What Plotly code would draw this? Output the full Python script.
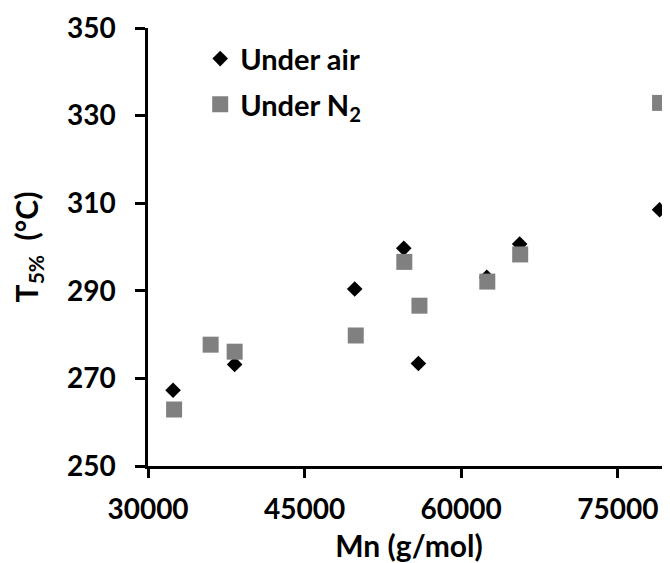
import plotly.graph_objects as go

# Data
mn_air = [32400, 38300, 49800, 54500, 55900, 62450, 65600, 79000]
t5_air = [267.3, 273.2, 290.4, 299.7, 273.4, 293.1, 300.7, 308.5]
mn_n2 = [32500, 36000, 38300, 49900, 54550, 56000, 62500, 65650, 79050]
t5_n2 = [262.9, 277.7, 276.1, 279.8, 296.6, 286.6, 292.1, 298.3, 332.9]
x_ticks = [30000, 45000, 60000, 75000]
y_ticks = [250, 270, 290, 310, 330, 350]

FONT = "Lato"
TICK = dict(family=FONT, size=28, color="black", weight="bold")
TITLE = dict(family=FONT, size=30, color="black", weight="bold")

fig = go.Figure()
fig.add_trace(go.Scatter(
    x=mn_air, y=t5_air, mode="markers", name="Under air", legendgroup="a",
    cliponaxis=False,
    marker=dict(symbol="diamond", size=12, color="black"),
))
fig.add_trace(go.Scatter(
    x=mn_n2, y=t5_n2, mode="markers", name="Under N<sub>2</sub>", legendgroup="b",
    cliponaxis=False,
    marker=dict(symbol="square", size=16, color="#808080"),
))

fig.update_layout(
    width=662, height=555,
    margin=dict(l=140, r=0, t=20, b=97),
    plot_bgcolor="white", paper_bgcolor="white",
    font=dict(family=FONT, size=28, color="black", weight="bold"),
    showlegend=True,
    legend=dict(x=0.1, y=0.988, xanchor="left", yanchor="top",
                bgcolor="rgba(0,0,0,0)", tracegroupgap=5,
                font=dict(family=FONT, size=29, color="black", weight="bold")),
    xaxis=dict(
        range=[30000, 80000], tickvals=x_ticks, ticktext=[str(v) for v in x_ticks],
        showgrid=False, zeroline=False, showline=True, linecolor="black", linewidth=2.5,
        ticks="outside", ticklen=9, tickwidth=2.5, tickcolor="black",
        tickfont=TICK, ticklabelstandoff=8,
        title=dict(text="Mn (g/mol)", standoff=12, font=TITLE),
    ),
    yaxis=dict(
        range=[250, 350], tickvals=y_ticks, ticktext=[str(v) for v in y_ticks],
        showgrid=False, zeroline=False, showline=True, linecolor="black", linewidth=2.5,
        ticks="outside", ticklen=10, tickwidth=2.5, tickcolor="black",
        tickfont=TICK, ticklabelstandoff=14,
        title=dict(text="T<sub>5%</sub>  (°C)", standoff=20, font=TITLE),
    ),
)

fig.write_html("out.html")
